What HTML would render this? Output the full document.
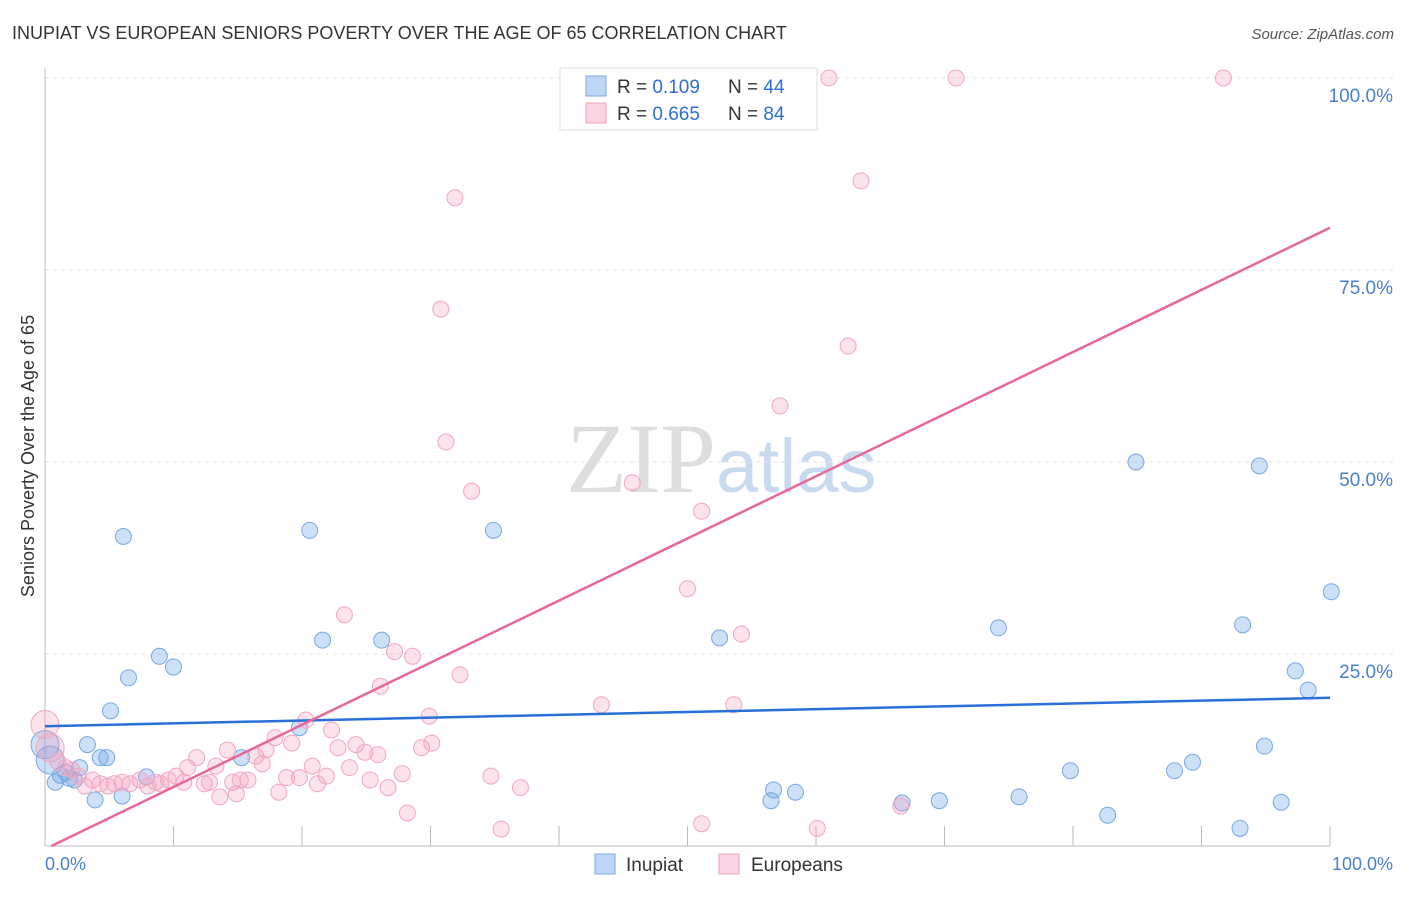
<!DOCTYPE html>
<html><head><meta charset="utf-8"><style>
body{margin:0;background:#fff;font-family:"Liberation Sans",sans-serif;}
</style></head><body>
<svg width="1406" height="892" xmlns="http://www.w3.org/2000/svg">
<text x="12" y="39" font-size="18" fill="#333">INUPIAT VS EUROPEAN SENIORS POVERTY OVER THE AGE OF 65 CORRELATION CHART</text>
<text x="1394" y="39" font-size="15" fill="#555" font-style="italic" text-anchor="end">Source: ZipAtlas.com</text>
<text x="716" y="492" font-size="100" fill="#ddd" text-anchor="end" font-family="Liberation Serif">ZIP</text>
<text x="716" y="492" font-size="76" fill="#c8daf0">atlas</text>
<g id="grid"></g>
<g id="axes"></g>
<text transform="translate(34,456) rotate(-90)" font-size="18" fill="#333" text-anchor="middle">Seniors Poverty Over the Age of 65</text>
<text x="45" y="870" font-size="18" fill="#4a7fd0">0.0%</text>
<text x="1393" y="870" font-size="18" fill="#4a7fd0" text-anchor="end">100.0%</text>
<g id="pts"></g>
<g id="lines"></g>
<g>
<rect x="560" y="68" width="257" height="62" fill="#fff" stroke="#ddd"/>
<rect x="586" y="76" width="20" height="20" fill="rgba(110,165,235,0.45)" stroke="#7aa8e0"/>
<rect x="586" y="103" width="20" height="20" fill="rgba(245,160,190,0.45)" stroke="#f0a0bb"/>
<text x="617" y="93" font-size="19" fill="#333">R = <tspan fill="#2d6fd6">0.109</tspan></text>
<text x="728" y="93" font-size="19" fill="#333">N = <tspan fill="#2d6fd6">44</tspan></text>
<text x="617" y="120" font-size="19" fill="#333">R = <tspan fill="#2d6fd6">0.665</tspan></text>
<text x="728" y="120" font-size="19" fill="#333">N = <tspan fill="#2d6fd6">84</tspan></text>
</g>
<g>
<rect x="595" y="854" width="20" height="20" fill="rgba(110,165,235,0.45)" stroke="#7aa8e0"/>
<text x="626" y="871" font-size="19" fill="#333">Inupiat</text>
<rect x="719" y="854" width="20" height="20" fill="rgba(245,160,190,0.45)" stroke="#f0a0bb"/>
<text x="751" y="871" font-size="19" fill="#333">Europeans</text>
</g>
</svg>
<script>
const blueX=[0.8,1.2,1.6,1.9,2.3,2.7,3.3,3.9,4.3,4.8,5.1,6.1,6.0,6.5,7.9,8.9,10.0,15.3,19.8,20.6,21.6,26.2,34.9,52.5,56.5,56.7,58.4,66.7,69.6,74.2,75.8,79.8,82.7,84.9,87.9,89.3,93.0,93.2,94.5,94.9,96.2,97.3,98.3,100.1,0,0.4];
const blueY=[8.3,9.2,9.6,8.8,8.6,10.2,13.2,6.0,11.5,11.5,17.6,40.3,6.5,21.9,9.0,24.7,23.3,11.5,15.4,41.1,26.8,26.8,41.1,27.1,5.9,7.3,7.0,5.6,5.9,28.4,6.4,9.8,4.0,50.0,9.8,10.9,2.3,28.8,49.5,13.0,5.7,22.8,20.3,33.1,13.2,11.2];
const pinkX=[0,0.4,1.0,1.6,2.1,2.6,3.1,3.7,4.3,4.9,5.4,6.0,6.6,7.4,8.0,8.6,9.0,9.6,10.2,10.8,11.1,11.8,12.4,12.8,13.3,13.6,14.2,14.6,14.9,15.2,15.8,16.4,16.9,17.2,17.9,18.2,18.8,19.2,19.8,20.3,20.8,21.2,21.9,22.3,22.8,23.3,23.7,24.2,24.9,25.3,25.9,26.1,26.7,27.2,27.8,28.2,28.6,29.3,29.9,30.1,30.8,31.2,31.9,32.3,33.2,34.7,35.5,37.0,43.3,45.7,50.0,51.1,51.1,53.6,54.2,57.2,60.1,61.0,62.5,63.5,66.6,70.9,91.7];
const pinkY=[15.8,12.8,11.0,10.2,9.9,9.1,7.8,8.6,8.1,7.8,8.1,8.3,8.1,8.6,7.8,8.3,8.1,8.6,9.1,8.3,10.2,11.5,8.1,8.3,10.4,6.4,12.5,8.3,6.8,8.6,8.6,11.7,10.7,12.5,14.1,7.0,8.9,13.4,8.9,16.4,10.4,8.1,9.1,15.1,12.8,30.1,10.2,13.2,12.2,8.6,11.9,20.8,7.6,25.3,9.4,4.3,24.7,12.8,16.9,13.4,69.9,52.6,84.4,22.3,46.2,9.1,2.2,7.6,18.4,47.3,33.5,2.9,43.6,18.4,27.6,57.3,2.3,100,65.1,86.6,5.2,100,100];
const blueLine=[[0,15.6],[100,19.3]];
const pinkLine=[[0.5,0],[100,80.5]];
const yTicks=[25,50,75,100];
const yTickLabels=["25.0%","50.0%","75.0%","100.0%"];
const xTicks=[0,10,20,30,40,50,60,70,80,90,100];
const X=v=>45+v*12.85, Y=v=>846-v*7.68;
const NS="http://www.w3.org/2000/svg";
function mk(t,a,p){const e=document.createElementNS(NS,t);for(const k in a)e.setAttribute(k,a[k]);p.appendChild(e);return e;}
const g=document.getElementById('grid'),ax=document.getElementById('axes'),pts=document.getElementById('pts'),ln=document.getElementById('lines');
yTicks.forEach((t,i)=>{const l=mk('line',{x1:45,x2:1394,y1:Y(t),y2:Y(t),stroke:'#e2e2e2','stroke-dasharray':'4,4'},g);


const tx=mk('text',{x:1393,y:Y(t)+24,'font-size':19,fill:'#4a7fd0','text-anchor':'end'},g);tx.textContent=yTickLabels[i];

});
const ya=mk('line',{x1:45,x2:45,y1:68,y2:846,stroke:'#bbb'},ax);


const xa=mk('line',{x1:45,x2:1330,y1:846,y2:846,stroke:'#bbb'},ax);


xTicks.forEach(t=>{const l=mk('line',{x1:X(t),x2:X(t),y1:826,y2:846,stroke:'#bbb'},ax);

});
blueX.forEach((v,i)=>{const c=mk('circle',{cx:X(v),cy:Y(blueY[i]),r:(i>=44?14:8),fill:'rgba(110,165,235,0.35)',stroke:'#7aa8e0','stroke-width':1},pts);

});
pinkX.forEach((v,i)=>{const c=mk('circle',{cx:X(v),cy:Y(pinkY[i]),r:(i<2?14:8),fill:'rgba(245,160,190,0.3)',stroke:'#f0a8c0','stroke-width':1},pts);

});
const bl=mk('line',{x1:X(blueLine[0][0]),y1:Y(blueLine[0][1]),x2:X(blueLine[1][0]),y2:Y(blueLine[1][1]),stroke:'#2870d8','stroke-width':2.5},ln);


const pl=mk('line',{x1:X(pinkLine[0][0]),y1:Y(pinkLine[0][1]),x2:X(pinkLine[1][0]),y2:Y(pinkLine[1][1]),stroke:'#e8679a','stroke-width':2.5},ln);


</script>
</body></html>
